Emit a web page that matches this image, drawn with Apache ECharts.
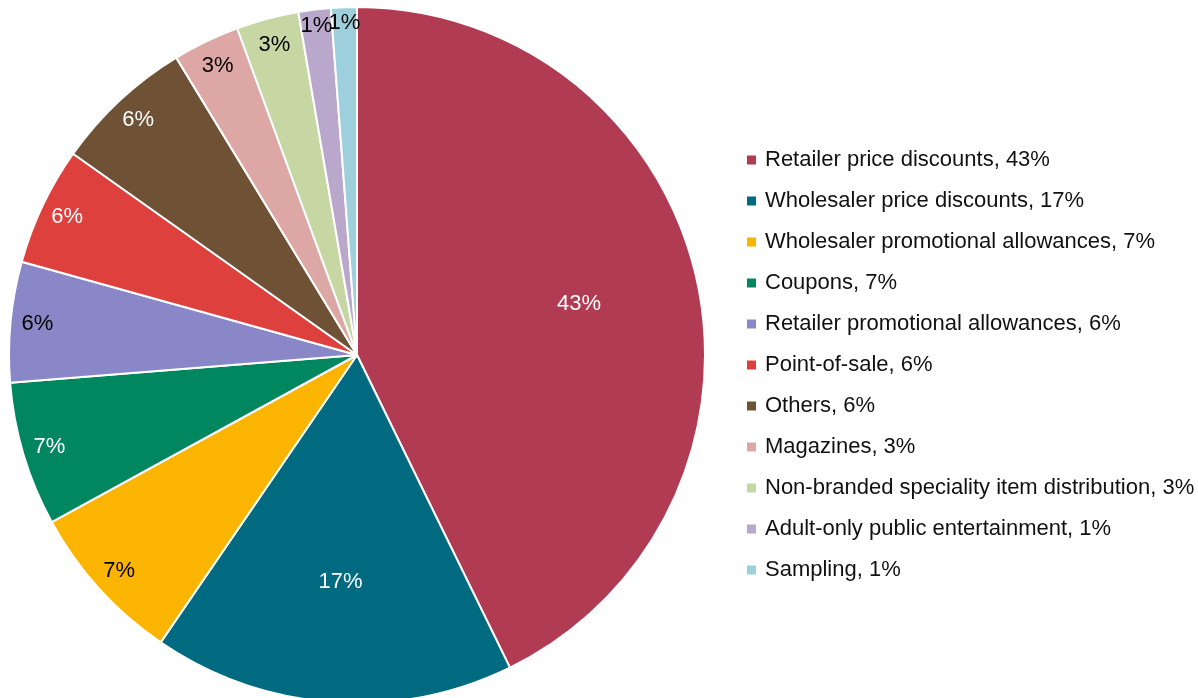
<!DOCTYPE html>
<html>
<head>
<meta charset="utf-8">
<script src="https://cdn.jsdelivr.net/npm/echarts@6/dist/echarts.min.js"></script>
<style>
html,body{margin:0;padding:0;background:#fff;}
#chart{width:1198px;height:698px;}
</style>
</head>
<body>
<div id="chart"></div>
<script>
// Category names
const categories = [
  'Retailer price discounts',
  'Wholesaler price discounts',
  'Wholesaler promotional allowances',
  'Coupons',
  'Retailer promotional allowances',
  'Point-of-sale',
  'Others',
  'Magazines',
  'Non-branded speciality item distribution',
  'Adult-only public entertainment',
  'Sampling'
];
// Slice sizes (share of the circle, %)
const sliceShares = [42.8, 16.8, 7.5, 6.7, 5.6, 5.5, 6.5, 3.1, 2.9, 1.5, 1.2];
// Percentages as printed in labels and legend
const printedPercents = [43, 17, 7, 7, 6, 6, 6, 3, 3, 1, 1];

const colors = ['#B23B54', '#006A80', '#FBB400', '#00875F', '#8A87C8', '#DD403D',
                '#6F5236', '#DDA7A6', '#C6D7A3', '#B9A8CB', '#9ECFDC'];
const labelColors = ['#fff', '#fff', '#000', '#fff', '#000', '#fff', '#fff', '#000', '#000', '#000', '#000'];

const center = [357, 355];
const R = 348;
const FONT = 'Liberation Sans, Arial, sans-serif';

function ringFor(v) { return v >= 15 ? 0 : (v >= 2 ? 1 : 2); }
const rings = [[0, 450], [288, 348], [310, 348]];

const mainData = categories.map((c, i) => ({
  name: c, value: sliceShares[i], itemStyle: { color: colors[i] }
}));

const labelSeries = rings.map((rr, k) => ({
  type: 'pie', silent: true, center: center, radius: rr,
  startAngle: 90, clockwise: true, animation: false,
  legendHoverLink: false, avoidLabelOverlap: false,
  labelLayout: { hideOverlap: false },
  itemStyle: { color: 'rgba(0,0,0,0)', borderWidth: 0 },
  emphasis: { disabled: true },
  labelLine: { show: false },
  data: categories.map((c, i) => ({
    name: c, value: sliceShares[i],
    itemStyle: { color: 'rgba(0,0,0,0)' },
    label: {
      show: ringFor(printedPercents[i]) === k,
      position: 'inside',
      formatter: printedPercents[i] + '%',
      color: labelColors[i],
      fontSize: 22, fontFamily: FONT
    }
  }))
}));

const chart = echarts.init(document.getElementById('chart'), null, { renderer: 'canvas' });
chart.setOption({
  animation: false,
  color: colors,
  legend: {
    orient: 'vertical',
    left: 740, top: 144,
    icon: 'rect', itemWidth: 11, itemHeight: 11, itemGap: 19,
    selectedMode: false,
    data: categories,
    formatter: function (name) {
      const i = categories.indexOf(name);
      return name + ', ' + printedPercents[i] + '%';
    },
    textStyle: { fontSize: 22, fontFamily: FONT, color: '#111', padding: [0, 0, 0, 3] }
  },
  series: [{
    type: 'pie', center: center, radius: [0, R],
    startAngle: 90, clockwise: true, animation: false,
    itemStyle: { borderColor: '#fff', borderWidth: 2 },
    label: { show: false }, labelLine: { show: false },
    emphasis: { disabled: true },
    data: mainData
  }].concat(labelSeries)
});
</script>
</body>
</html>
